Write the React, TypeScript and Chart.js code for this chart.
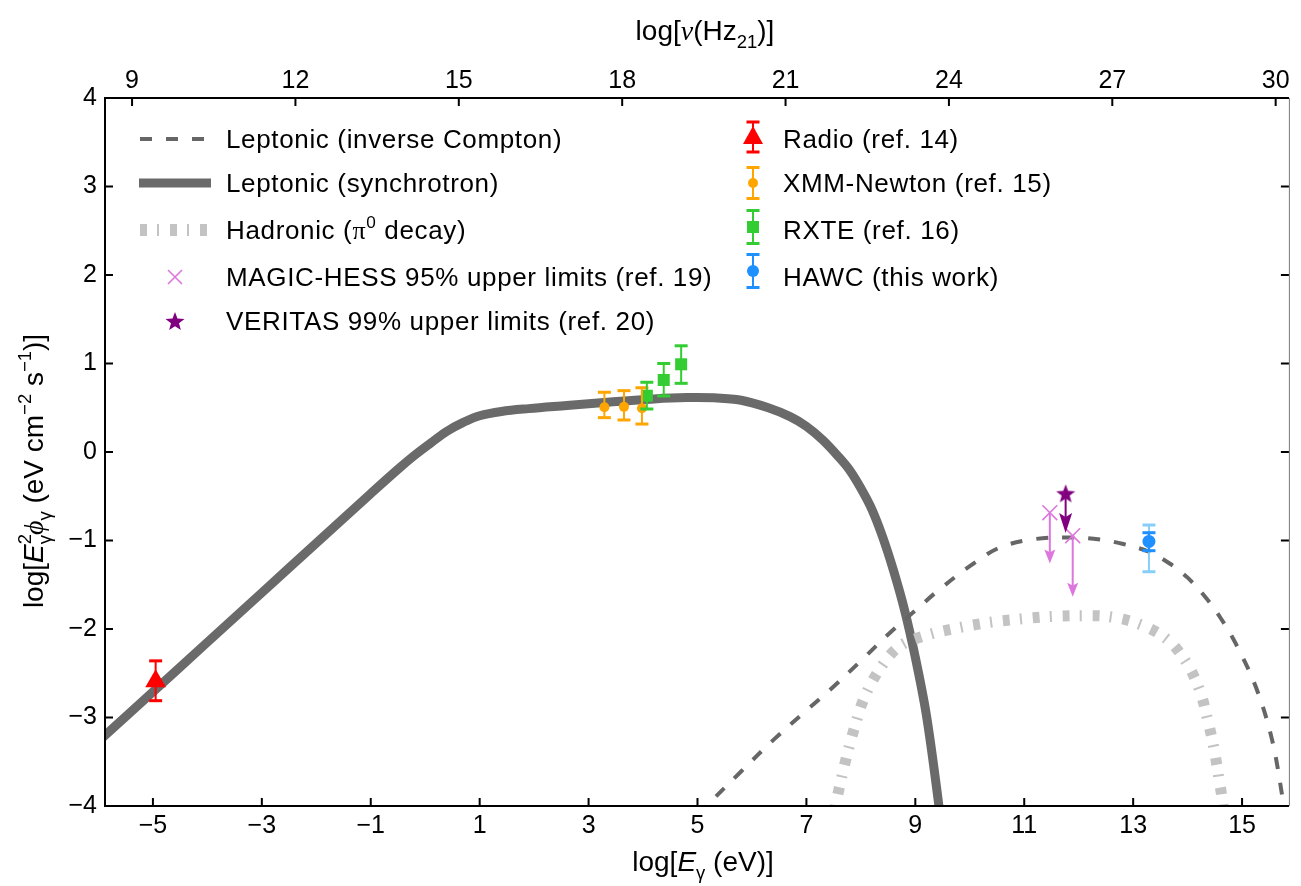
import React, { useEffect, useRef } from 'react';
import { Chart, registerables } from 'chart.js';

Chart.register(...registerables);

// ---------- axes ----------
const X_MIN = -5.88;
const X_MAX = 15.86;
const NU_SHIFT = 14.383; // log(nu/Hz) = log(E/eV) + 14.383
const Y_MIN = -4;
const Y_MAX = 4;
const bottomTicks = [-5, -3, -1, 1, 3, 5, 7, 9, 11, 13, 15];
const topTicks = [9, 12, 15, 18, 21, 24, 27, 30];
const leftTicks = [-4, -3, -2, -1, 0, 1, 2, 3, 4];

// ---------- model curves ----------
const syncX = [-6.0, -5.0, -4.0, -3.0, -2.0, -1.0, -0.5, -0.2, 0.1, 0.4, 0.7, 1.0, 1.4, 1.9, 2.6, 3.4, 4.2, 4.8, 5.3, 5.8, 6.3, 6.7, 7.0, 7.3, 7.6, 7.8, 8.0, 8.2, 8.4, 8.6, 8.8, 9.0, 9.2, 9.4, 9.55];
const syncY = [-3.27, -2.71, -2.15, -1.59, -1.03, -0.47, -0.195, -0.04, 0.1, 0.235, 0.335, 0.41, 0.458, 0.49, 0.525, 0.565, 0.6, 0.615, 0.612, 0.585, 0.5, 0.4, 0.29, 0.136, -0.06, -0.21, -0.41, -0.645, -0.96, -1.34, -1.78, -2.32, -2.96, -3.84, -4.6];

const icX = [5.0, 5.8, 6.4, 7.0, 7.43, 8.0, 8.52, 9.0, 9.43, 10.0, 10.55, 11.18, 11.9, 12.4, 12.82, 13.3, 13.67, 14.0, 14.34, 14.6, 14.88, 15.25, 15.55, 15.76, 15.9];
const icY = [-4.1, -3.61, -3.25, -2.92, -2.69, -2.36, -2.05, -1.79, -1.56, -1.29, -1.08, -0.985, -0.965, -0.99, -1.04, -1.13, -1.26, -1.42, -1.65, -1.87, -2.16, -2.65, -3.25, -3.97, -4.5];

const hadX = [7.49, 7.55, 7.61, 7.73, 7.88, 8.06, 8.34, 8.7, 9.21, 9.76, 10.31, 10.88, 11.43, 12.0, 12.55, 13.09, 13.61, 13.97, 14.22, 14.37, 14.49, 14.58, 14.63, 14.69];
const hadY = [-4.2, -3.95, -3.78, -3.46, -3.12, -2.78, -2.46, -2.2, -2.07, -1.99, -1.93, -1.89, -1.86, -1.85, -1.86, -1.94, -2.11, -2.37, -2.69, -3.03, -3.37, -3.71, -3.9, -4.2];

// ---------- measurements ----------
const radioX = [-4.95];
const radioY = [-2.59];
const radioLo = [-2.81];
const radioHi = [-2.36];

const xmmX = [3.29, 3.65, 3.98];
const xmmY = [0.505, 0.51, 0.494];
const xmmLo = [0.388, 0.362, 0.316];
const xmmHi = [0.675, 0.693, 0.726];

const rxteX = [4.07, 4.38, 4.7];
const rxteY = [0.636, 0.814, 0.991];
const rxteLo = [0.486, 0.633, 0.776];
const rxteHi = [0.788, 1.0, 1.2];

const hawcX = [13.29];
const hawcY = [-1.01];
const hawcStatLo = [-1.115];
const hawcStatHi = [-0.912];
const hawcSysLo = [-1.353];
const hawcSysHi = [-0.825];

const magicX = [11.47, 11.89];
const magicY = [-0.686, -0.946];
const magicArrowTo = [-1.26, -1.635];

const veritasX = [11.76];
const veritasY = [-0.467];
const veritasArrowTo = [-0.915];

// ---------- legend texts ----------
const legendLeft = [
  'Leptonic (inverse Compton)',
  'Leptonic (synchrotron)',
  'Hadronic',
  'MAGIC-HESS 95% upper limits (ref. 19)',
  'VERITAS 99% upper limits (ref. 20)',
];
const legendRight = ['Radio (ref. 14)', 'XMM-Newton (ref. 15)', 'RXTE (ref. 16)', 'HAWC (this work)'];

// ---------- style ----------
const SANS = '"Liberation Sans", Arial, Helvetica, sans-serif';
const SERIF = '"Liberation Serif", "Times New Roman", serif';
const FS = 25;
const FT = 28;
const C_SYNC = '#6a6a6a';
const C_IC = '#666666';
const C_HAD = '#c3c3c3';
const C_RED = '#ff0000';
const C_ORANGE = '#ffa500';
const C_GREEN = '#33cc33';
const C_BLUE = '#1e90ff';
const C_LBLUE = '#87cefa';
const C_ORCHID = '#dd77dd';
const C_PURPLE = '#800080';
const HAD_DASH = [7, 10, 2, 11];
const IC_DASH = [12, 14];

const pts = (xs: number[], ys: number[]) => xs.map((x, i) => ({ x, y: ys[i] }));
const fmt = (v: number) => (v < 0 ? '\u2212' + Math.abs(v) : String(v));

function makeStar(size: number, color: string) {
  const c = document.createElement('canvas');
  c.width = size;
  c.height = size;
  const g = c.getContext('2d')!;
  const cx = size / 2, cy = size / 2 + 1, R = size / 2, r = R * 0.42;
  g.beginPath();
  for (let i = 0; i < 10; i++) {
    const a = -Math.PI / 2 + (i * Math.PI) / 5;
    const rad = i % 2 === 0 ? R : r;
    g.lineTo(cx + rad * Math.cos(a), cy + rad * Math.sin(a));
  }
  g.closePath();
  g.fillStyle = color;
  g.fill();
  return c;
}

type Seg = { t: string; serif?: boolean; it?: boolean; k?: 'sub' | 'sup'; stay?: boolean };

function segFont(s: Seg, size: number) {
  const sz = s.k ? size * 0.66 : size;
  return `${s.it ? 'italic ' : ''}${sz}px ${s.serif ? SERIF : SANS}`;
}
function richWidth(ctx: CanvasRenderingContext2D, segs: Seg[], size: number) {
  let w = 0;
  for (const s of segs) {
    ctx.font = segFont(s, size);
    if (!s.stay) w += ctx.measureText(s.t).width;
  }
  return w;
}
function drawRich(ctx: CanvasRenderingContext2D, segs: Seg[], x: number, y: number, size: number, center: boolean) {
  const w = richWidth(ctx, segs, size);
  let cx = center ? x - w / 2 : x;
  ctx.textBaseline = 'alphabetic';
  ctx.textAlign = 'left';
  for (const s of segs) {
    ctx.font = segFont(s, size);
    const dy = s.k === 'sub' ? size * 0.28 : s.k === 'sup' ? -size * 0.42 : 0;
    ctx.fillText(s.t, cx, y + dy);
    if (!s.stay) cx += ctx.measureText(s.t).width;
  }
}

function errBar(ctx: CanvasRenderingContext2D, x: number, y1: number, y2: number, color: string, lw: number, capHalf: number, capT: number) {
  ctx.strokeStyle = color;
  ctx.lineWidth = lw;
  ctx.setLineDash([]);
  ctx.beginPath();
  ctx.moveTo(x, y1);
  ctx.lineTo(x, y2);
  ctx.stroke();
  ctx.fillStyle = color;
  ctx.fillRect(x - capHalf, y1 - capT / 2, capHalf * 2, capT);
  ctx.fillRect(x - capHalf, y2 - capT / 2, capHalf * 2, capT);
}

function arrow(ctx: CanvasRenderingContext2D, x: number, y0: number, yTip: number, color: string, lw: number, headW: number, headH: number) {
  ctx.strokeStyle = color;
  ctx.fillStyle = color;
  ctx.lineWidth = lw;
  ctx.setLineDash([]);
  ctx.beginPath();
  ctx.moveTo(x, y0);
  ctx.lineTo(x, yTip - headH * 0.7);
  ctx.stroke();
  ctx.beginPath();
  ctx.moveTo(x, yTip);
  ctx.lineTo(x - headW / 2, yTip - headH);
  ctx.lineTo(x, yTip - headH * 0.8);
  ctx.lineTo(x + headW / 2, yTip - headH);
  ctx.closePath();
  ctx.fill();
}

function drawX(ctx: CanvasRenderingContext2D, x: number, y: number, h: number, color: string) {
  ctx.strokeStyle = color;
  ctx.lineWidth = 1.6;
  ctx.setLineDash([]);
  ctx.beginPath();
  ctx.moveTo(x - h, y - h);
  ctx.lineTo(x + h, y + h);
  ctx.moveTo(x - h, y + h);
  ctx.lineTo(x + h, y - h);
  ctx.stroke();
}

let starImg: HTMLCanvasElement = null as any;

const overlayPlugin = {
  id: 'overlay',
  afterDatasetsDraw(chart: any) {
    const ctx: CanvasRenderingContext2D = chart.ctx;
    const xs = chart.scales.x;
    const ys = chart.scales.y;
    const px = (v: number) => xs.getPixelForValue(v);
    const py = (v: number) => ys.getPixelForValue(v);
    ctx.save();
    radioX.forEach((x, i) => errBar(ctx, px(x), py(radioLo[i]), py(radioHi[i]), C_RED, 2, 6.5, 3));
    xmmX.forEach((x, i) => errBar(ctx, px(x), py(xmmLo[i]), py(xmmHi[i]), C_ORANGE, 2, 6.5, 3));
    rxteX.forEach((x, i) => errBar(ctx, px(x), py(rxteLo[i]), py(rxteHi[i]), C_GREEN, 2, 6.5, 3));
    hawcX.forEach((x, i) => {
      errBar(ctx, px(x), py(hawcSysLo[i]), py(hawcSysHi[i]), C_LBLUE, 2, 6.5, 3);
      errBar(ctx, px(x), py(hawcStatLo[i]), py(hawcStatHi[i]), C_BLUE, 2.5, 6.5, 3);
    });
    magicX.forEach((x, i) => arrow(ctx, px(x), py(magicY[i]), py(magicArrowTo[i]), C_ORCHID, 2, 11, 14));
    veritasX.forEach((x, i) => arrow(ctx, px(x), py(veritasY[i]), py(veritasArrowTo[i]), C_PURPLE, 2, 13, 20));
    ctx.restore();
  },
  afterDraw(chart: any) {
    const ctx: CanvasRenderingContext2D = chart.ctx;
    const { left, right, top, bottom } = chart.chartArea;
    const xs = chart.scales.x;
    const x2 = chart.scales.x2;
    const ys = chart.scales.y;
    ctx.save();
    ctx.setLineDash([]);
    // frame
    ctx.strokeStyle = '#000';
    ctx.lineWidth = 2;
    ctx.beginPath();
    ctx.moveTo(right, top);
    ctx.lineTo(left, top);
    ctx.lineTo(left, bottom);
    ctx.lineTo(right, bottom);
    ctx.stroke();
    ctx.strokeStyle = '#777';
    ctx.lineWidth = 1;
    ctx.beginPath();
    ctx.moveTo(right + 0.5, top);
    ctx.lineTo(right + 0.5, bottom);
    ctx.stroke();
    // inward ticks
    ctx.strokeStyle = '#000';
    ctx.lineWidth = 2;
    ctx.beginPath();
    bottomTicks.forEach((v) => {
      const p = xs.getPixelForValue(v);
      ctx.moveTo(p, bottom);
      ctx.lineTo(p, bottom - 8);
    });
    topTicks.forEach((v) => {
      const p = x2.getPixelForValue(v);
      ctx.moveTo(p, top);
      ctx.lineTo(p, top + 8);
    });
    leftTicks.forEach((v) => {
      const p = ys.getPixelForValue(v);
      ctx.moveTo(left, p);
      ctx.lineTo(left + 8, p);
      ctx.moveTo(right, p);
      ctx.lineTo(right - 8, p);
    });
    ctx.stroke();

    // axis titles
    ctx.fillStyle = '#000';
    drawRich(ctx, [{ t: 'log[' }, { t: '\u03bd', serif: true, it: true }, { t: '(Hz' }, { t: '21', k: 'sub' }, { t: ')]' }], 705, 40, FT, true);
    drawRich(ctx, [{ t: 'log[' }, { t: 'E', it: true }, { t: '\u03b3', k: 'sub' }, { t: ' (eV)]' }], 703, 871, FT, true);
    ctx.save();
    ctx.translate(43, 471);
    ctx.rotate(-Math.PI / 2);
    drawRich(
      ctx,
      [
        { t: 'log[' },
        { t: 'E', it: true },
        { t: '2', k: 'sup', stay: true },
        { t: '\u03b3', k: 'sub' },
        { t: '\u03d5', it: true, serif: true },
        { t: '\u03b3', k: 'sub' },
        { t: ' (eV cm' },
        { t: '\u22122', k: 'sup' },
        { t: ' s' },
        { t: '\u22121', k: 'sup' },
        { t: ')]' },
      ],
      0,
      0,
      FT,
      true,
    );
    ctx.restore();

    // legend, left column
    const rowsL = [139, 183, 230, 277, 321];
    const iconL0 = 140, iconL1 = 210, iconLC = 175, textL = 226;
    ctx.lineCap = 'butt';
    ctx.strokeStyle = C_IC;
    ctx.lineWidth = 4;
    ctx.setLineDash(IC_DASH);
    ctx.beginPath();
    ctx.moveTo(iconL0, rowsL[0]);
    ctx.lineTo(iconL1 - 4, rowsL[0]);
    ctx.stroke();
    ctx.setLineDash([]);
    ctx.strokeStyle = C_SYNC;
    ctx.lineWidth = 9;
    ctx.beginPath();
    ctx.moveTo(iconL0 - 1, rowsL[1]);
    ctx.lineTo(iconL1 + 1, rowsL[1]);
    ctx.stroke();
    ctx.strokeStyle = C_HAD;
    ctx.lineWidth = 12;
    ctx.setLineDash(HAD_DASH);
    ctx.beginPath();
    ctx.moveTo(iconL0, rowsL[2]);
    ctx.lineTo(iconL1 + 1, rowsL[2]);
    ctx.stroke();
    ctx.setLineDash([]);
    drawX(ctx, iconLC, rowsL[3], 7, C_ORCHID);
    ctx.drawImage(starImg, iconLC - starImg.width / 2, rowsL[4] - starImg.height / 2);

    ctx.fillStyle = '#000';
    (ctx as any).letterSpacing = '0.65px';
    ctx.font = `${FS + 1}px ${SANS}`;
    ctx.textAlign = 'left';
    ctx.textBaseline = 'alphabetic';
    ctx.fillText(legendLeft[0], textL, rowsL[0] + 9);
    ctx.fillText(legendLeft[1], textL, rowsL[1] + 9);
    drawRich(ctx, [{ t: legendLeft[2] + ' (' }, { t: '\u03c0', serif: true }, { t: '0', k: 'sup' }, { t: ' decay)' }], textL, rowsL[2] + 9, FS + 1, false);
    ctx.font = `${FS + 1}px ${SANS}`;
    ctx.fillText(legendLeft[3], textL, rowsL[3] + 9);
    ctx.fillText(legendLeft[4], textL, rowsL[4] + 9);

    // legend, right column
    const iconR = 753, textR = 783;
    const rowsR = [139, 183, 230, 277];
    const iconRY = [137, 183, 227, 271];
    errBar(ctx, iconR, iconRY[0] - 15, iconRY[0] + 15, C_RED, 2, 6.5, 3);
    ctx.fillStyle = C_RED;
    ctx.beginPath();
    ctx.moveTo(iconR, iconRY[0] - 11);
    ctx.lineTo(iconR + 10, iconRY[0] + 7);
    ctx.lineTo(iconR - 10, iconRY[0] + 7);
    ctx.closePath();
    ctx.fill();
    errBar(ctx, iconR, iconRY[1] - 15.5, iconRY[1] + 15.5, C_ORANGE, 2, 6.5, 3);
    ctx.fillStyle = C_ORANGE;
    ctx.beginPath();
    ctx.arc(iconR, iconRY[1], 5, 0, Math.PI * 2);
    ctx.fill();
    errBar(ctx, iconR, iconRY[2] - 16.5, iconRY[2] + 16.5, C_GREEN, 2, 6.5, 3);
    ctx.fillStyle = C_GREEN;
    ctx.fillRect(iconR - 6, iconRY[2] - 6, 12, 12);
    errBar(ctx, iconR, iconRY[3] - 16.5, iconRY[3] + 16.5, C_BLUE, 2, 6.5, 3);
    ctx.fillStyle = C_BLUE;
    ctx.beginPath();
    ctx.arc(iconR, iconRY[3], 6, 0, Math.PI * 2);
    ctx.fill();

    ctx.fillStyle = '#000';
    ctx.font = `${FS + 1}px ${SANS}`;
    legendRight.forEach((t, i) => ctx.fillText(t, textR, rowsR[i] + 9));
    (ctx as any).letterSpacing = '0px';
    ctx.restore();
  },
};

export default function App() {
  const ref = useRef<HTMLCanvasElement>(null);
  useEffect(() => {
    if (!ref.current) return;
    starImg = makeStar(20, C_PURPLE);
    const tickFont = { family: SANS, size: FS };
    const curve = { showLine: true, pointRadius: 0, borderCapStyle: 'butt', tension: 0.35, clip: 0 };
    const chart = new Chart(ref.current, {
      type: 'scatter',
      data: {
        datasets: [
          { label: 'Radio', data: pts(radioX, radioY), pointStyle: 'triangle', pointRadius: 12, backgroundColor: C_RED, borderColor: C_RED, borderWidth: 0 },
          { label: 'XMM-Newton', data: pts(xmmX, xmmY), pointStyle: 'circle', pointRadius: 5, backgroundColor: C_ORANGE, borderColor: C_ORANGE, borderWidth: 0 },
          { label: 'RXTE', data: pts(rxteX, rxteY), pointStyle: 'rect', pointRadius: 8.5, backgroundColor: C_GREEN, borderColor: C_GREEN, borderWidth: 0 },
          { label: 'HAWC', data: pts(hawcX, hawcY), pointStyle: 'circle', pointRadius: 6.5, backgroundColor: C_BLUE, borderColor: C_BLUE, borderWidth: 0 },
          { label: 'VERITAS', data: pts(veritasX, veritasY), pointStyle: starImg as any, pointRadius: 10, backgroundColor: C_PURPLE, borderColor: C_PURPLE },
          { label: 'MAGIC-HESS', data: pts(magicX, magicY), pointStyle: 'crossRot', pointRadius: 10.5, borderWidth: 1.6, backgroundColor: C_ORCHID, borderColor: C_ORCHID },
          { ...curve, label: 'Hadronic', data: pts(hadX, hadY), borderColor: C_HAD, borderWidth: 11, borderDash: HAD_DASH },
          { ...curve, label: 'IC', data: pts(icX, icY), borderColor: C_IC, borderWidth: 4, borderDash: IC_DASH },
          { ...curve, label: 'Synchrotron', data: pts(syncX, syncY), borderColor: C_SYNC, borderWidth: 9 },
        ] as any,
      },
      options: {
        responsive: false,
        devicePixelRatio: 1,
        animation: false,
        layout: { padding: { left: 0, right: 1, top: 0, bottom: 0 } },
        plugins: { legend: { display: false }, tooltip: { enabled: false } },
        events: [],
        scales: {
          x: {
            type: 'linear',
            position: 'bottom',
            min: X_MIN,
            max: X_MAX,
            grid: { display: false, drawTicks: false },
            border: { display: false },
            afterBuildTicks: (s: any) => {
              s.ticks = bottomTicks.map((v) => ({ value: v }));
            },
            afterFit: (s: any) => {
              s.height = 80;
            },
            ticks: { font: tickFont, color: '#000', padding: 5, maxRotation: 0, autoSkip: false, callback: (v: any) => fmt(Number(v)) },
          },
          x2: {
            type: 'linear',
            position: 'top',
            min: X_MIN + NU_SHIFT,
            max: X_MAX + NU_SHIFT,
            grid: { display: false, drawTicks: false },
            border: { display: false },
            afterBuildTicks: (s: any) => {
              s.ticks = topTicks.map((v) => ({ value: v }));
            },
            afterFit: (s: any) => {
              s.height = 98;
            },
            ticks: { font: tickFont, color: '#000', padding: 2, maxRotation: 0, autoSkip: false, callback: (v: any) => fmt(Number(v)) },
          },
          y: {
            type: 'linear',
            position: 'left',
            min: Y_MIN,
            max: Y_MAX,
            grid: { display: false, drawTicks: false },
            border: { display: false },
            afterBuildTicks: (s: any) => {
              s.ticks = leftTicks.map((v) => ({ value: v }));
            },
            afterFit: (s: any) => {
              s.width = 105;
            },
            ticks: { font: tickFont, color: '#000', padding: 8, autoSkip: false, callback: (v: any) => fmt(Number(v)) },
          },
        },
      } as any,
      plugins: [overlayPlugin],
    });
    return () => chart.destroy();
  }, []);
  return (
    <div style={{ position: 'fixed', left: 0, top: 0, width: 1301, height: 886, background: '#fff' }}>
      <canvas ref={ref} width={1301} height={886} style={{ display: 'block', width: 1301, height: 886 }} />
    </div>
  );
}
